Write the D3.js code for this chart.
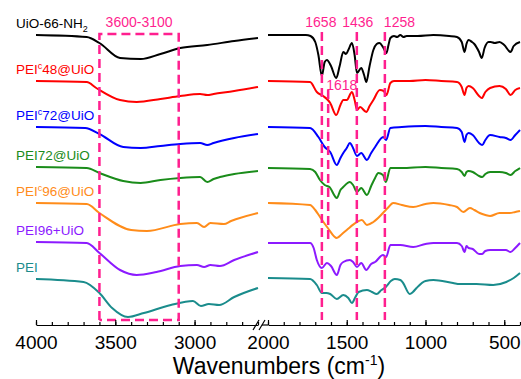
<!DOCTYPE html>
<html>
<head>
<meta charset="utf-8">
<script src="https://cdn.jsdelivr.net/npm/d3@7"></script>
<style>
  body { margin: 0; background: #fff; }
  text { font-family: Arial, "Liberation Sans", sans-serif; }
</style>
</head>
<body>
<svg id="chart" width="521" height="379"></svg>
<script>
// sample names (^ = superscript, _ = subscript) and colours, top to bottom
const seriesNames = ["UiO-66-NH_2", "PEI^c48@UiO", "PEI^c72@UiO", "PEI72@UiO", "PEI^c96@UiO", "PEI96+UiO", "PEI"];
const seriesColors = ["#000000", "#ff0000", "#0000ff", "#1a8c1a", "#ff8c1a", "#8c1aff", "#1a8c8c"];

// left panel 4000-2600 cm-1 : [wavenumber, transmittance (a.u., stacked)]
const leftSpectra = [
  [[4000,305],[3680,303],[3600,297],[3470,282],[3340,281],[3215,286],[3090,292],[2920,295],[2750,299],[2600,302]],
  [[4000,259],[3680,258],[3620,252],[3470,240],[3365,238],[3215,241],[3090,244],[2965,246],[2920,245],[2880,246],[2750,249],[2600,253]],
  [[4000,213],[3690,212],[3600,206],[3450,193],[3340,192],[3215,194],[3090,196],[2965,197],[2920,195],[2880,197],[2750,202],[2600,206]],
  [[4000,173],[3680,172],[3600,167],[3450,159],[3340,157],[3215,160],[3090,162],[2965,163],[2920,158],[2880,161],[2840,163],[2750,166],[2600,169]],
  [[4000,137],[3680,136],[3600,127],[3400,110],[3300,109],[3090,116],[2985,117],[2940,113],[2900,117],[2815,116],[2770,119],[2600,127]],
  [[4000,98],[3680,97],[3600,87],[3470,70],[3365,65],[3240,68],[3090,74],[2985,75],[2940,73],[2900,75],[2840,74],[2750,80],[2600,88]],
  [[4000,61],[3700,58],[3600,47],[3520,32],[3420,23],[3320,27],[3150,35],[3010,39],[2960,34],[2910,36],[2845,35],[2750,43],[2600,52]]
];

// right panel 2000-400 cm-1
const rightSpectra = [
  [[2000,305],[1760,305],[1730,304],[1700,298],[1680,285],[1658,264],[1640,278],[1626,280],[1600,274],[1567,262],[1545,274],[1522,288],[1505,286],[1490,290],[1467,297],[1450,285],[1435,267],[1408,272],[1390,265],[1376,258],[1355,274],[1331,290],[1310,296],[1293,297],[1270,293],[1248,287],[1235,295],[1223,302],[1200,304],[1180,303],[1160,305],[1140,303],[1120,304],[1050,304],[950,305],[850,304],[800,303],[770,298],[752,288],[740,296],[726,300],[705,298],[690,296],[660,288],[643,282],[625,292],[600,298],[586,298],[560,297],[530,298],[500,295],[460,288],[440,294],[400,298]],
  [[2000,259],[1733,258],[1690,248],[1650,244],[1620,240],[1605,237],[1567,225],[1540,235],[1522,240],[1500,240],[1467,248],[1450,240],[1435,230],[1415,233],[1376,228],[1355,234],[1331,240],[1290,250],[1265,249],[1248,245],[1223,257],[1200,259],[1100,259],[1000,260],[900,259],[800,258],[770,253],[752,245],[740,252],[726,254],[700,252],[660,244],[643,242],[620,248],[590,252],[530,254],[490,251],[460,245],[430,250],[400,252]],
  [[2000,213],[1733,212],[1680,203],[1640,193],[1605,188],[1563,175],[1540,182],[1522,187],[1500,192],[1480,197],[1460,192],[1435,184],[1408,187],[1372,180],[1345,187],[1320,193],[1268,203],[1250,200],[1223,212],[1150,213],[1000,214],[900,213],[800,212],[770,208],[752,198],[740,205],[726,207],[700,205],[660,197],[640,195],[620,200],[590,205],[530,203],[490,202],[460,200],[430,205],[400,210]],
  [[2000,172],[1733,171],[1700,168],[1670,160],[1640,155],[1610,153],[1563,142],[1540,150],[1522,153],[1480,158],[1460,155],[1435,148],[1408,152],[1372,145],[1345,154],[1320,162],[1300,167],[1270,165],[1252,158],[1223,172],[1150,172],[1000,173],[900,172],[800,171],[770,168],[752,164],[740,168],[726,169],[700,168],[660,164],[640,163],[620,166],[590,168],[530,168],[490,167],[460,165],[430,169],[400,172]],
  [[2000,137],[1733,135],[1700,130],[1670,123],[1620,112],[1563,102],[1530,106],[1500,110],[1435,118],[1404,120],[1372,115],[1331,118],[1270,127],[1240,132],[1205,137],[1150,135],[1078,133],[1000,136],[950,137],[850,135],[800,133],[760,128],[718,132],[690,130],[656,127],[620,125],[590,124],[530,127],[466,127],[430,128],[400,129]],
  [[2000,97],[1733,97],[1710,92],[1690,80],[1658,72],[1626,77],[1600,74],[1563,65],[1540,75],[1522,78],[1480,80],[1460,78],[1435,73],[1408,77],[1376,70],[1345,76],[1320,78],[1270,85],[1250,83],[1223,95],[1160,95],[1078,93],[1000,96],[950,97],[800,97],[770,94],[752,88],[740,94],[726,92],[700,91],[660,86],[640,86],[620,89],[590,90],[530,90],[490,90],[460,88],[430,92],[400,97]],
  [[2000,62],[1733,61],[1690,55],[1658,47],[1630,47],[1605,46],[1563,41],[1522,45],[1490,42],[1467,37],[1445,43],[1425,48],[1372,50],[1340,48],[1310,46],[1280,50],[1252,53],[1220,59],[1195,61],[1160,60],[1142,57],[1100,46],[1080,48],[1057,52],[1000,59],[950,60],[825,57],[783,56],[676,56],[570,55],[487,58],[440,62],[400,67]]
];

const leftTicks = [4000, 3500, 3000];
const rightTicks = [2000, 1500, 1000, 500];
const boxRange = [3600, 3100];          // O-H / N-H region box
const boxLevels = [306, 20];            // top / bottom of the box (a.u.)
const markLines = [1658, 1618, 1436, 1258];
const markSpans = [[308, 20], [250, 100], [308, 20], [308, 20]];
const pink = "#ff1f8f";

const svg = d3.select("#chart");
const axisY = 325;

const xL = d3.scaleLinear().domain([4000, 2600]).range([36, 258]);
const xR = d3.scaleLinear().domain([2000, 400]).range([268, 520]);
const y = d3.scaleLinear().domain([0, 340]).range([340, 0]);

const lineL = d3.line().x(d => xL(d[0])).y(d => y(d[1])).curve(d3.curveMonotoneX);
const lineR = d3.line().x(d => xR(d[0])).y(d => y(d[1])).curve(d3.curveMonotoneX);

// spectra
seriesColors.forEach((c, i) => {
  svg.append("path").attr("d", lineL(leftSpectra[i]))
    .attr("fill", "none").attr("stroke", c).attr("stroke-width", 2);
  svg.append("path").attr("d", lineR(rightSpectra[i]))
    .attr("fill", "none").attr("stroke", c).attr("stroke-width", 2);
});

// series labels
seriesNames.forEach((name, i) => {
  const t = svg.append("text")
    .attr("x", 16)
    .attr("y", y(leftSpectra[i][0][1]) - 7)
    .attr("fill", seriesColors[i])
    .style("font-size", "13.5px");
  const m = name.match(/^([^\^_]*)([\^_])(\w)(.*)$/);
  if (!m) { t.text(name); return; }
  t.append("tspan").text(m[1]);
  const up = m[2] === "^";
  t.append("tspan").text(m[3]).style("font-size", "9px").attr("dy", up ? -5 : 4);
  if (m[4]) t.append("tspan").text(m[4]).attr("dy", up ? 5 : -4);
});

// dashed annotations
const dash = "9,5";
const box = svg.append("g").attr("stroke", pink).attr("stroke-width", 2.5)
  .attr("fill", "none").attr("stroke-dasharray", dash);
box.append("path")
  .attr("d", `M${xL(boxRange[0])},${y(boxLevels[1])}V${y(boxLevels[0])}H${xL(boxRange[1])}V${y(boxLevels[1])}H${xL(boxRange[0])}`);

svg.append("text")
  .attr("x", (xL(boxRange[0]) + xL(boxRange[1])) / 2).attr("y", 27)
  .attr("text-anchor", "middle").attr("fill", pink).style("font-size", "14px")
  .text(`${boxRange[0]}-${boxRange[1]}`);

markLines.forEach((wn, i) => {
  svg.append("line")
    .attr("x1", xR(wn)).attr("x2", xR(wn))
    .attr("y1", y(markSpans[i][0])).attr("y2", y(markSpans[i][1]))
    .attr("stroke", pink).attr("stroke-width", 2.5).attr("stroke-dasharray", dash);
});
// peak labels
const labelPos = [
  { anchor: "middle", dx: -1, y: 27 },
  { anchor: "start", dx: -2, y: 90 },
  { anchor: "middle", dx: 1, y: 27 },
  { anchor: "start", dx: -1, y: 27 }
];
markLines.forEach((wn, i) => {
  svg.append("text")
    .attr("x", xR(wn) + labelPos[i].dx).attr("y", labelPos[i].y)
    .attr("text-anchor", labelPos[i].anchor)
    .attr("fill", pink).style("font-size", "14px")
    .text(wn);
});

// axes
function drawAxis(scale, major, minor) {
  const g = svg.append("g").attr("transform", `translate(0,${axisY})`);
  g.call(d3.axisBottom(scale).tickValues(minor).tickSize(-3).tickSizeOuter(0).tickFormat(""));
  g.select(".domain").remove();
  const g2 = svg.append("g").attr("transform", `translate(0,${axisY})`);
  g2.call(d3.axisBottom(scale).tickValues(major).tickSize(-5).tickSizeOuter(0)
    .tickPadding(11).tickFormat(d3.format("d")));
  g2.selectAll("text").style("font-size", "19px").attr("fill", "#000")
    .style("font-family", "Arial, 'Liberation Sans', sans-serif");
  svg.selectAll(".tick line, .domain").attr("stroke", "#000").attr("stroke-width", 1.2);
}
drawAxis(xL, leftTicks, d3.range(4000, 2599, -100));
drawAxis(xR, rightTicks, d3.range(2000, 399, -100));

// axis break
svg.append("line").attr("x1", 262).attr("x2", 268).attr("y1", axisY).attr("y2", axisY)
  .attr("stroke", "#000").attr("stroke-width", 1.2);
[0, 6].forEach(o => {
  svg.append("line")
    .attr("x1", 253 + o).attr("y1", axisY + 5).attr("x2", 259 + o).attr("y2", axisY - 5)
    .attr("stroke", "#000").attr("stroke-width", 1.2);
});

// axis title
const title = svg.append("text").attr("x", 279).attr("y", 374)
  .attr("text-anchor", "middle").style("font-size", "23px").attr("fill", "#000");
title.append("tspan").text("Wavenumbers (cm");
title.append("tspan").text("-1").style("font-size", "14px").attr("dy", -9);
title.append("tspan").text(")").attr("dy", 9);
</script>
</body>
</html>
